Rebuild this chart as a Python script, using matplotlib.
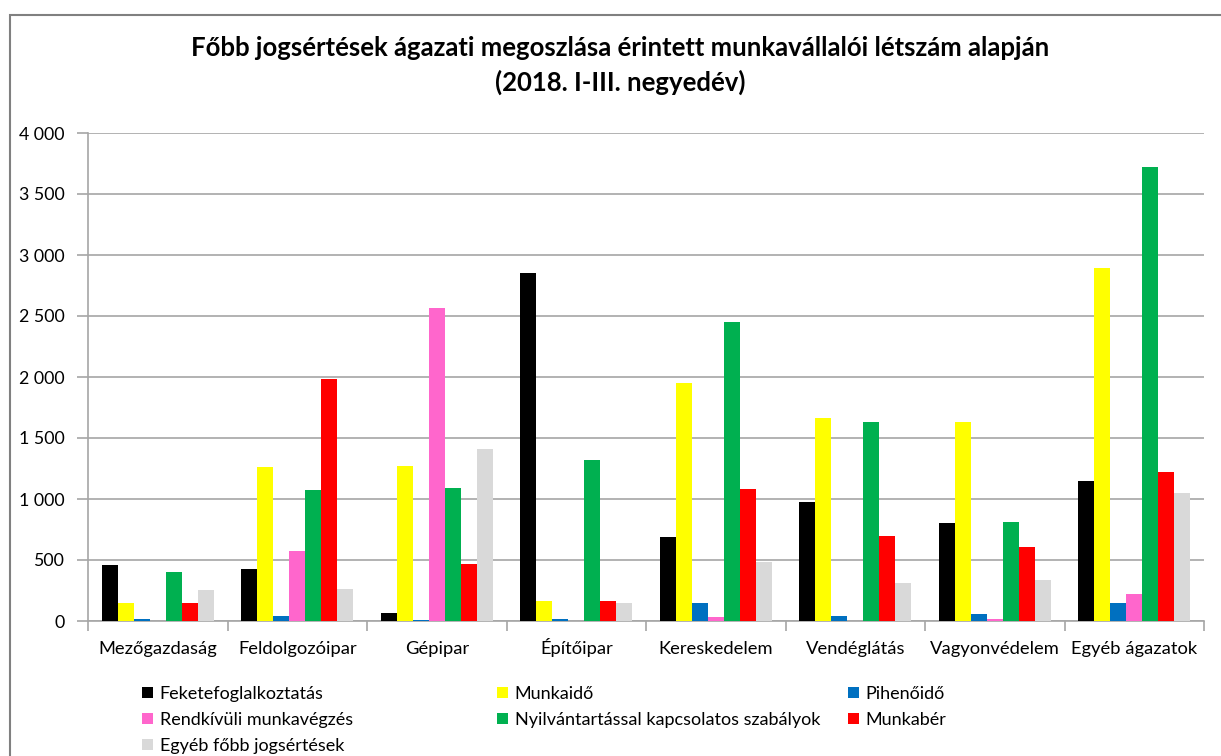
import numpy as np
import matplotlib
matplotlib.use("Agg")
import matplotlib.pyplot as plt
from matplotlib.patches import Patch, Rectangle
from matplotlib.ticker import FuncFormatter

plt.rcParams['font.family'] = ['Lato', 'DejaVu Sans']

categories = ["Mezőgazdaság", "Feldolgozóipar", "Gépipar", "Építőipar",
              "Kereskedelem", "Vendéglátás", "Vagyonvédelem", "Egyéb ágazatok"]

series_names = ["Feketefoglalkoztatás", "Munkaidő", "Pihenőidő",
                "Rendkívüli munkavégzés", "Nyilvántartással kapcsolatos szabályok",
                "Munkabér", "Egyéb főbb jogsértések"]

feketefoglalkoztatas = [460, 427, 68, 2855, 685, 973, 803, 1145]
munkaido = [145, 1265, 1271, 164, 1948, 1666, 1630, 2890]
pihenoido = [14, 44, 5, 14, 145, 44, 60, 145]
rendkivuli = [0, 575, 2566, 0, 30, 0, 19, 225]
nyilvantartas = [403, 1074, 1090, 1318, 2451, 1630, 811, 3721]
munkaber = [145, 1985, 466, 164, 1085, 693, 608, 1225]
egyeb = [255, 266, 1411, 145, 480, 310, 334, 1052]

values = [feketefoglalkoztatas, munkaido, pihenoido, rendkivuli,
          nyilvantartas, munkaber, egyeb]
colors = ["#000000", "#FFFF00", "#0070C0", "#FF66CC", "#00B050", "#FF0000", "#D9D9D9"]

fig = plt.figure(figsize=(12.21, 7.56), dpi=100)
ax = fig.add_axes([88 / 1221, 1 - 621 / 756, (1204 - 88) / 1221, (621 - 133) / 756])

x = np.arange(len(categories))
w = 0.115
for i, (vals, c) in enumerate(zip(values, colors)):
    ax.bar(x + (i - 3) * w, vals, width=w, color=c, zorder=3)

ax.set_xlim(-0.5, len(categories) - 0.5)
ax.set_ylim(0, 4000)
ax.set_yticks(np.arange(0, 4001, 500))
ax.yaxis.set_major_formatter(FuncFormatter(lambda v, p: f"{int(v):,}".replace(",", " ")))
ax.yaxis.grid(True, color="#A6A6A6", linewidth=1.2, zorder=0)
ax.set_xticks(x)
ax.set_xticklabels(categories)
for lbl in ax.get_xticklabels():
    lbl.set_verticalalignment('baseline')
ax.set_xticks(np.arange(-0.5, len(categories)), minor=True)
ax.tick_params(axis='x', which='major', length=0, pad=24, labelsize=13.2)
ax.tick_params(axis='x', which='minor', length=7, color="#A6A6A6", width=1.2)
ax.tick_params(axis='y', length=8, color="#A6A6A6", width=1.2, pad=9, labelsize=12.8)
for s in ['top', 'right']:
    ax.spines[s].set_visible(False)
for s in ['left', 'bottom']:
    ax.spines[s].set_color("#A6A6A6")
    ax.spines[s].set_linewidth(1.2)

fig.text(0.508, 1 - 48 / 756, "Főbb jogsértések ágazati megoszlása érintett munkavállalói létszám alapján",
         ha='center', va='center', fontsize=18.5, fontweight='bold')
fig.text(0.508, 1 - 82 / 756, "(2018. I-III. negyedév)",
         ha='center', va='center', fontsize=18.5, fontweight='bold')

# legend, three columns placed like the original
cols = [[0, 3, 6], [1, 4], [2, 5]]
col_x = [142, 497, 848]
for idx, cx in zip(cols, col_x):
    handles = [Patch(facecolor=colors[k], label=series_names[k]) for k in idx]
    fig.legend(handles=handles, loc='upper left', bbox_to_anchor=(cx / 1221, 1 - 686 / 756),
               frameon=False, fontsize=13, handlelength=0.62, handleheight=0.62,
               handletextpad=0.35, labelspacing=0.55, borderaxespad=0, borderpad=0)

fig.patches.append(Rectangle((10 / 1221, -0.1), 1.2, 1 - 15 / 756 + 0.1, transform=fig.transFigure,
                             fill=False, edgecolor="#808080", linewidth=1.5))

fig.savefig("out.png", dpi=100)
